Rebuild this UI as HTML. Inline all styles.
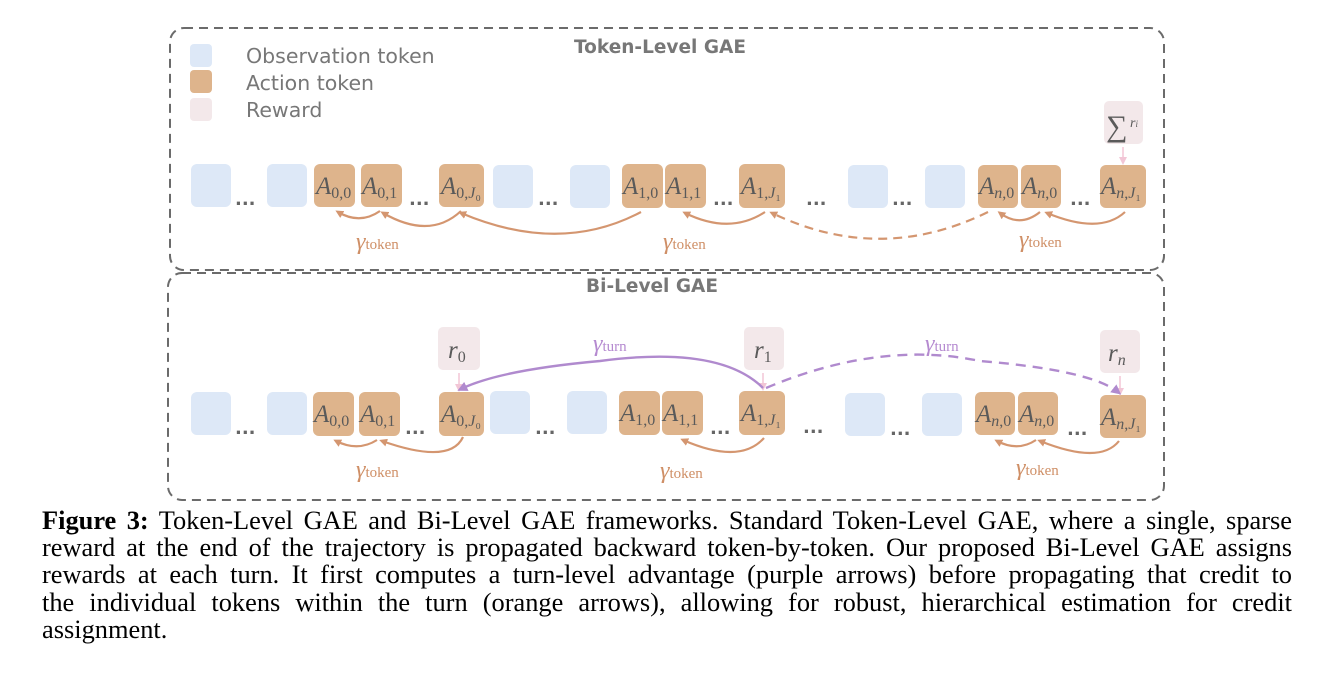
<!DOCTYPE html>
<html><head><meta charset="utf-8"><style>
body{margin:0;background:#fff;width:1344px;height:688px;overflow:hidden}
svg{position:absolute;left:0;top:0}
.cap{position:absolute;left:42px;top:507px;width:1250px;font-family:"Liberation Serif",serif;font-size:26.4px;line-height:27.2px;color:#000}
.cap div{text-align:justify;text-align-last:justify;white-space:nowrap}
.cap div.last{text-align-last:left}
.o{fill:#dde8f7}.a{fill:#deb48c}.r{fill:#f3e8ea}
.t{font-family:"Liberation Serif",serif;font-style:italic;fill:#5a5a5a;font-size:25px}
.l{font-family:"DejaVu Sans",sans-serif;fill:#777;font-size:20.5px}
.d{font-family:"DejaVu Sans",sans-serif;fill:#666;font-size:18px;font-weight:bold}
.g{font-family:"Liberation Serif",serif;font-style:italic;fill:#cf8f66;font-size:24px}
.sub{font-style:normal;font-size:16px}
.g .sub{font-size:15px}
</style></head><body>
<svg width="1344" height="688" viewBox="0 0 1344 688">
<defs>
<marker id="mo" markerWidth="8" markerHeight="8" refX="5" refY="4" orient="auto" markerUnits="userSpaceOnUse"><path d="M0,0 L8,4 L0,8 z" fill="#d49670"/></marker>
<marker id="mp" markerWidth="10" markerHeight="10" refX="6" refY="5" orient="auto" markerUnits="userSpaceOnUse"><path d="M0,0 L10,5 L0,10 z" fill="#b08ace"/></marker>
<marker id="mk" markerWidth="8" markerHeight="8" refX="5" refY="4" orient="auto" markerUnits="userSpaceOnUse"><path d="M0,0 L8,4 L0,8 z" fill="#f2c6d6"/></marker>
</defs>
<rect x="170" y="28" width="994" height="242" rx="14" fill="none" stroke="#6b6b6b" stroke-width="2" stroke-dasharray="9,6"/>
<rect x="168" y="273" width="996" height="227" rx="14" fill="none" stroke="#6b6b6b" stroke-width="2" stroke-dasharray="9,6"/>
<text x="660" y="53" text-anchor="middle" class="l" style="font-weight:bold;font-size:18.5px">Token-Level GAE</text>
<text x="652" y="292" text-anchor="middle" class="l" style="font-weight:bold;font-size:18.5px">Bi-Level GAE</text>
<rect x="190" y="44" width="22" height="23" rx="4" class="o"/>
<rect x="190" y="70" width="22" height="23" rx="4" class="a"/>
<rect x="190" y="98" width="22" height="23" rx="4" class="r"/>
<text x="246" y="63" class="l">Observation token</text>
<text x="246" y="90" class="l">Action token</text>
<text x="246" y="117" class="l">Reward</text>

<g>
<rect x="191" y="164" width="40" height="43" rx="6" class="o"/>
<rect x="267" y="164" width="40" height="43" rx="6" class="o"/>
<rect x="314" y="164" width="41" height="43" rx="6" class="a"/>
<rect x="361" y="164" width="41" height="43" rx="6" class="a"/>
<rect x="439" y="164" width="45" height="43" rx="6" class="a"/>
<rect x="493" y="165" width="40" height="43" rx="6" class="o"/>
<rect x="570" y="165" width="40" height="43" rx="6" class="o"/>
<rect x="622" y="164" width="41" height="44" rx="6" class="a"/>
<rect x="665" y="164" width="41" height="44" rx="6" class="a"/>
<rect x="739" y="164" width="46" height="44" rx="6" class="a"/>
<rect x="848" y="165" width="40" height="43" rx="6" class="o"/>
<rect x="925" y="165" width="40" height="43" rx="6" class="o"/>
<rect x="978" y="165" width="40" height="43" rx="6" class="a"/>
<rect x="1021" y="165" width="40" height="43" rx="6" class="a"/>
<rect x="1100" y="165" width="46" height="43" rx="6" class="a"/>
<rect x="1104" y="101" width="39" height="43" rx="5" class="r"/>
<text x="1106" y="136" class="t" style="font-style:normal;font-size:30px">∑</text><text x="1130" y="127" class="t" style="font-size:14px">r<tspan style="font-size:9px">i</tspan></text>
<line x1="1123" y1="147" x2="1123" y2="162" stroke="#f2c6d6" stroke-width="1.5" marker-end="url(#mk)"/>
<text x="316" y="194" class="t">A<tspan class="sub" dy="4">0,0</tspan></text>
<text x="362" y="194" class="t">A<tspan class="sub" dy="4">0,1</tspan></text>
<text x="441" y="194" class="t">A<tspan class="sub" dy="4">0,<tspan style="font-style:italic">J</tspan>₀</tspan></text>
<text x="623" y="194" class="t">A<tspan class="sub" dy="4">1,0</tspan></text>
<text x="666" y="194" class="t">A<tspan class="sub" dy="4">1,1</tspan></text>
<text x="741" y="194" class="t">A<tspan class="sub" dy="4">1,<tspan style="font-style:italic">J</tspan>₁</tspan></text>
<text x="979" y="194" class="t">A<tspan class="sub" dy="4"><tspan style="font-style:italic">n</tspan>,0</tspan></text>
<text x="1022" y="194" class="t">A<tspan class="sub" dy="4"><tspan style="font-style:italic">n</tspan>,0</tspan></text>
<text x="1101" y="194" class="t">A<tspan class="sub" dy="4"><tspan style="font-style:italic">n</tspan>,<tspan style="font-style:italic">J</tspan>₁</tspan></text>
<g class="d"><text x="235" y="205">...</text><text x="409" y="205">...</text><text x="538" y="205">...</text><text x="713" y="205">...</text><text x="806" y="205">...</text><text x="892" y="205">...</text><text x="1070" y="205">...</text></g>
<g fill="none" stroke="#d49670" stroke-width="2.2">
<path d="M380,211 Q360,225 338,212" marker-end="url(#mo)"/>
<path d="M461,211 Q430,240 383,213" marker-end="url(#mo)"/>
<path d="M641,212 Q560,255 461,213" marker-end="url(#mo)"/>
<path d="M765,212 Q730,235 685,213" marker-end="url(#mo)"/>
<path d="M988,212 Q880,265 772,213" stroke-dasharray="9,6" marker-end="url(#mo)"/>
<path d="M1040,212 Q1020,228 1000,213" marker-end="url(#mo)"/>
<path d="M1125,212 Q1100,235 1047,213" marker-end="url(#mo)"/>
</g>
<text x="356" y="249" class="g">γ<tspan class="sub">token</tspan></text>
<text x="663" y="249" class="g">γ<tspan class="sub">token</tspan></text>
<text x="1019" y="247" class="g">γ<tspan class="sub">token</tspan></text>
</g>

<g>
<rect x="191" y="392" width="40" height="43" rx="6" class="o"/>
<rect x="267" y="392" width="40" height="43" rx="6" class="o"/>
<rect x="313" y="392" width="41" height="44" rx="6" class="a"/>
<rect x="359" y="392" width="41" height="44" rx="6" class="a"/>
<rect x="439" y="392" width="45" height="44" rx="6" class="a"/>
<rect x="490" y="391" width="40" height="43" rx="6" class="o"/>
<rect x="567" y="391" width="40" height="43" rx="6" class="o"/>
<rect x="619" y="391" width="41" height="44" rx="6" class="a"/>
<rect x="662" y="391" width="41" height="44" rx="6" class="a"/>
<rect x="739" y="391" width="46" height="44" rx="6" class="a"/>
<rect x="845" y="393" width="40" height="43" rx="6" class="o"/>
<rect x="922" y="393" width="40" height="43" rx="6" class="o"/>
<rect x="975" y="392" width="40" height="43" rx="6" class="a"/>
<rect x="1018" y="392" width="40" height="43" rx="6" class="a"/>
<rect x="1100" y="395" width="46" height="43" rx="6" class="a"/>
<rect x="438" y="327" width="42" height="43" rx="5" class="r"/>
<rect x="744" y="327" width="40" height="43" rx="5" class="r"/>
<rect x="1100" y="330" width="40" height="43" rx="5" class="r"/>
<text x="448" y="358" class="t">r<tspan class="sub" dy="4">0</tspan></text>
<text x="754" y="358" class="t">r<tspan class="sub" dy="4">1</tspan></text>
<text x="1108" y="361" class="t">r<tspan class="sub" dy="4" style="font-style:italic">n</tspan></text>
<g stroke="#f2c6d6" stroke-width="1.5"><line x1="459" y1="373" x2="459" y2="389" marker-end="url(#mk)"/><line x1="763" y1="373" x2="763" y2="388" marker-end="url(#mk)"/><line x1="1120" y1="376" x2="1120" y2="393" marker-end="url(#mk)"/></g>
<text x="314" y="422" class="t">A<tspan class="sub" dy="4">0,0</tspan></text>
<text x="360" y="422" class="t">A<tspan class="sub" dy="4">0,1</tspan></text>
<text x="441" y="422" class="t">A<tspan class="sub" dy="4">0,<tspan style="font-style:italic">J</tspan>₀</tspan></text>
<text x="620" y="421" class="t">A<tspan class="sub" dy="4">1,0</tspan></text>
<text x="663" y="421" class="t">A<tspan class="sub" dy="4">1,1</tspan></text>
<text x="741" y="421" class="t">A<tspan class="sub" dy="4">1,<tspan style="font-style:italic">J</tspan>₁</tspan></text>
<text x="976" y="422" class="t">A<tspan class="sub" dy="4"><tspan style="font-style:italic">n</tspan>,0</tspan></text>
<text x="1019" y="422" class="t">A<tspan class="sub" dy="4"><tspan style="font-style:italic">n</tspan>,0</tspan></text>
<text x="1101" y="425" class="t">A<tspan class="sub" dy="4"><tspan style="font-style:italic">n</tspan>,<tspan style="font-style:italic">J</tspan>₁</tspan></text>
<g class="d"><text x="235" y="434">...</text><text x="405" y="434">...</text><text x="535" y="434">...</text><text x="710" y="434">...</text><text x="803" y="433">...</text><text x="890" y="435">...</text><text x="1067" y="435">...</text></g>
<g fill="none" stroke="#d49670" stroke-width="2.2">
<path d="M377,440 Q358,452 336,441" marker-end="url(#mo)"/>
<path d="M463,437 Q450,465 382,441" marker-end="url(#mo)"/>
<path d="M764,438 Q740,465 683,440" marker-end="url(#mo)"/>
<path d="M1036,440 Q1018,452 997,441" marker-end="url(#mo)"/>
<path d="M1119,441 Q1100,465 1040,441" marker-end="url(#mo)"/>
</g>
<g fill="none" stroke="#b08ace" stroke-width="2.4">
<path d="M763,388 Q720,345 600,361 Q500,370 461,389" marker-end="url(#mp)"/>
<path d="M766,388 Q880,340 980,361 Q1090,370 1118,392" stroke-dasharray="10,7" marker-end="url(#mp)"/>
</g>
<text x="593" y="351" class="g" style="fill:#b58ad0">γ<tspan class="sub">turn</tspan></text>
<text x="925" y="351" class="g" style="fill:#b58ad0">γ<tspan class="sub">turn</tspan></text>
<text x="356" y="477" class="g">γ<tspan class="sub">token</tspan></text>
<text x="660" y="478" class="g">γ<tspan class="sub">token</tspan></text>
<text x="1016" y="475" class="g">γ<tspan class="sub">token</tspan></text>
</g>
</svg>
<div class="cap">
<div><b>Figure 3:</b> Token-Level GAE and Bi-Level GAE frameworks. Standard Token-Level GAE, where a single, sparse</div>
<div>reward at the end of the trajectory is propagated backward token-by-token. Our proposed Bi-Level GAE assigns</div>
<div>rewards at each turn. It first computes a turn-level advantage (purple arrows) before propagating that credit to</div>
<div>the individual tokens within the turn (orange arrows), allowing for robust, hierarchical estimation for credit</div>
<div class="last">assignment.</div>
</div>
</body></html>
